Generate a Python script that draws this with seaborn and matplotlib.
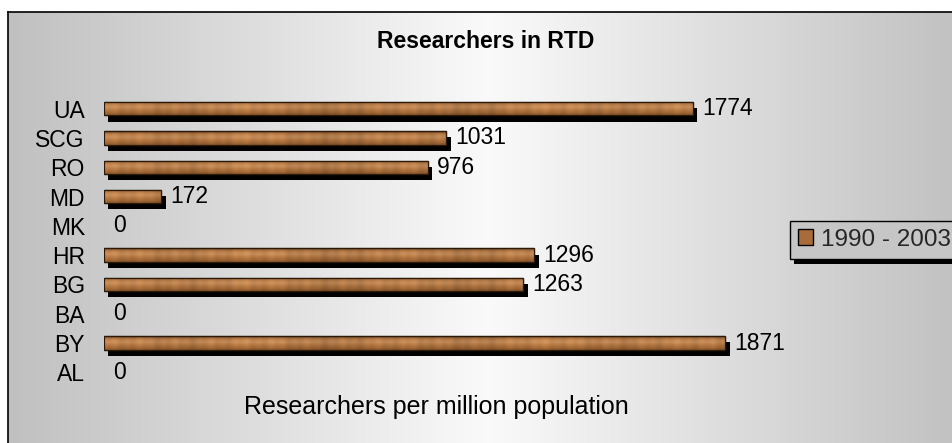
import numpy as np
import matplotlib
matplotlib.use("Agg")
import matplotlib.pyplot as plt
import matplotlib.patheffects as pe
from matplotlib.patches import Patch, Rectangle
import seaborn as sns
import pandas as pd

# ---- data ----
countries = ["UA", "SCG", "RO", "MD", "MK", "HR", "BG", "BA", "BY", "AL"]
researchers = [1774, 1031, 976, 172, 0, 1296, 1263, 0, 1871, 0]
period = "1990 - 2003"
title = "Researchers in RTD"
xlabel = "Researchers per million population"

sns.set_theme(style="white")
plt.rcParams["font.family"] = ["Liberation Sans", "DejaVu Sans"]

W, H = 953, 443
fig = plt.figure(figsize=(W / 100, H / 100), dpi=100)
fig.patch.set_facecolor("white")

# ---- chart-area background with horizontal gradient ----
bg = fig.add_axes([8 / W, 0, 1 - 8 / W, 1 - 12 / H], zorder=0)
xs = np.linspace(8, 953, 946)
t = np.clip(np.abs(xs - 488) / 480, 0, 1)
v = 0.98 - (0.98 - 0.753) * t
grad = np.tile(v[None, :, None], (2, 1, 3))
bg.imshow(grad, aspect="auto", extent=[0, 1, 0, 1], interpolation="bilinear")
bg.set_xlim(0, 1)
bg.set_ylim(0, 1)
bg.set_xticks([])
bg.set_yticks([])
for s in ["right", "bottom"]:
    bg.spines[s].set_visible(False)
for s in ["left", "top"]:
    bg.spines[s].set_color("black")
    bg.spines[s].set_linewidth(1.2)

# ---- main plot ----
XMAX = 2000
ax_left, ax_right = 104, 768
ax = fig.add_axes([ax_left / W, 1 - 387 / H, (ax_right - ax_left) / W, (387 - 94) / H], zorder=1)
ax.patch.set_alpha(0)
df = pd.DataFrame({"country": countries, "value": researchers, "period": period})
bar_color = "#a86c3a"
sns.barplot(data=df, x="value", y="country", order=countries, color=bar_color,
            width=0.46, edgecolor="#2b1a0c", linewidth=0.9, saturation=1,
            errorbar=None, ax=ax)

ylim = ax.get_ylim()
# wood-like texture (decorative)
prof = np.array([[118, 74, 37], [172, 114, 63], [186, 130, 80], [192, 136, 86],
                 [182, 124, 72], [170, 112, 61], [158, 102, 54], [138, 88, 44]]) / 255.0
px_per_unit = (ax_right - ax_left) / XMAX

container = ax.containers[0]
for p in container.patches:
    w = p.get_width()
    if w <= 0:
        p.set_visible(False)
        continue
    p.set_zorder(2)
    p.set_path_effects([pe.SimplePatchShadow(offset=(3.2, -4.4), shadow_rgbFace="black", alpha=1.0),
                        pe.Normal()])
    x0, y0, h = p.get_x(), p.get_y(), p.get_height()
    ncol = max(int(w * px_per_unit), 2)
    c = np.arange(ncol)
    mod = (1 + 0.035 * np.sin(c / 5.3 + 0.7) + 0.03 * np.sin(c / 1.9 + 2.1)
           + 0.04 * np.sin(c / 23.0 + 1.3) + 0.02 * np.sin(c / 61.0))
    tex = np.clip(prof[:, None, :] * mod[None, :, None], 0, 1)
    im = ax.imshow(tex, aspect="auto", extent=[x0, x0 + w, y0 + h, y0],
                   interpolation="bilinear", zorder=2.5)
    im.set_clip_path(p)
    ax.add_patch(Rectangle((x0, y0), w, h, fill=False, edgecolor="#2b1a0c",
                           linewidth=0.9, zorder=3))

ax.bar_label(container, labels=[str(v) for v in researchers], padding=6.5,
             fontsize=16.5, color="black")

ax.set_xlim(0, XMAX)
ax.set_ylim(ylim)
ax.set_xlabel("")
ax.set_ylabel("")
ax.set_xticks([])
ax.tick_params(axis="y", labelsize=16.5, pad=13.7, length=0, colors="black")
for s in ax.spines.values():
    s.set_visible(False)

# ---- texts ----
fig.text(486 / W, 1 - 48 / H, title, ha="center", va="baseline",
         fontsize=16.5, fontweight="bold", color="black")
fig.text(436 / W, 1 - 414 / H, xlabel, ha="center", va="baseline",
         fontsize=18, color="black")

# ---- legend ----
handle = Patch(facecolor=bar_color, edgecolor="black", linewidth=1.0)
leg = fig.legend([handle], [period], loc="upper left",
                 bbox_to_anchor=(790 / W, 1 - 220.7 / H), fontsize=17.5,
                 frameon=True, fancybox=False, edgecolor="black",
                 facecolor="#c6c6c6", framealpha=1, handlelength=0.62,
                 handleheight=0.62, handletextpad=0.33, borderpad=0.33,
                 borderaxespad=0)
leg.get_frame().set_linewidth(1.0)
leg.get_frame().set_path_effects([pe.SimplePatchShadow(offset=(3, -3.6), shadow_rgbFace="black", alpha=1.0),
                                  pe.Normal()])
leg.set_zorder(5)

fig.savefig("out.png", dpi=100)
